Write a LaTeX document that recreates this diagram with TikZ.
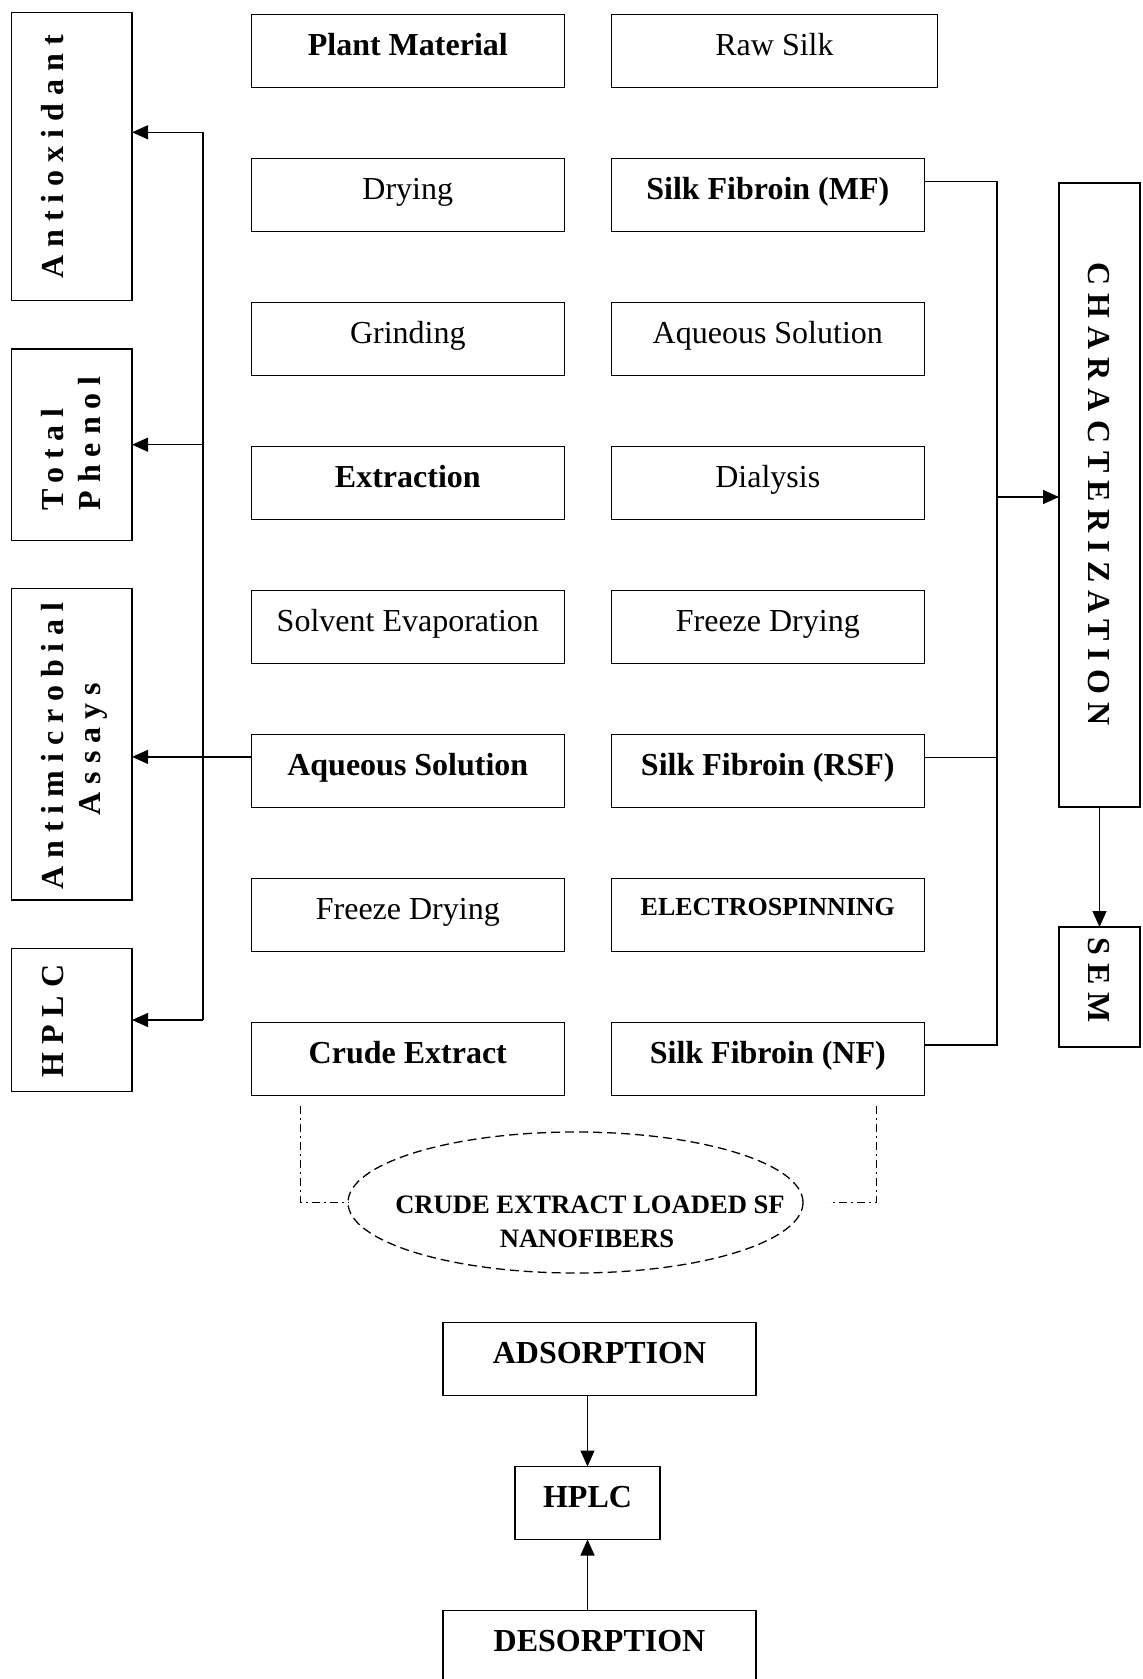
\documentclass[tikz,border=0pt]{standalone}
\usepackage{graphicx}
\usepackage{fontspec}
\setmainfont{Liberation Serif}
\newfontfamily\spacedfont{Liberation Serif}[LetterSpace=25]
\usetikzlibrary{arrows.meta,shapes.geometric}
\begin{document}
\begin{tikzpicture}[x=0.5pt,y=-0.5pt,line width=0.65pt,
  hbox/.style={draw, inner sep=0pt, outer sep=0pt, minimum width=156.5pt, minimum height=36.5pt,
    text height=10pt, text depth=5.4pt, font=\fontsize{16pt}{18pt}\selectfont},
  bbox/.style={hbox, font=\fontsize{16pt}{18pt}\selectfont\bfseries},
  plainbox/.style={draw, inner sep=0pt, outer sep=0pt},
  vtext/.style={inner sep=0pt, font=\spacedfont\bfseries\fontsize{16pt}{18pt}\selectfont},
  arr/.style={-{Triangle[length=8pt,width=7pt]}},
  dashdot/.style={dash pattern=on 4pt off 2pt on 1pt off 2pt},
  elltext/.style={anchor=base, inner sep=0pt, font=\bfseries\fontsize{13.3pt}{15pt}\selectfont}]
\useasboundingbox (0,0) rectangle (1142,1679);

% left column
\node[bbox] (pm) at (407.8,51.3) {Plant Material};
\node[hbox] (dr) at (407.8,195.3) {Drying};
\node[hbox] (gr) at (407.8,339.3) {Grinding};
\node[bbox] (ex) at (407.8,483.3) {Extraction};
\node[hbox] (se) at (407.8,627.3) {Solvent Evaporation};
\node[bbox] (aqL) at (407.8,771.3) {Aqueous Solution};
\node[hbox] (fdL) at (407.8,915.3) {Freeze Drying};
\node[bbox] (ce) at (407.8,1059.3) {Crude Extract};

% right column
\node[hbox, minimum width=163.2pt] (rs) at (774.5,51.3) {Raw Silk};
\node[bbox] (mf) at (767.8,195.3) {Silk Fibroin (MF)};
\node[hbox] (aqR) at (767.8,339.3) {Aqueous Solution};
\node[hbox] (dia) at (767.8,483.3) {Dialysis};
\node[hbox] (fdR) at (767.8,627.3) {Freeze Drying};
\node[bbox] (rsf) at (767.8,771.3) {Silk Fibroin (RSF)};
\node[hbox, text height=6pt, text depth=6pt, font=\fontsize{13pt}{15pt}\selectfont\bfseries] (es) at (767.8,915.3) {ELECTROSPINNING};
\node[bbox] (nf) at (767.8,1059.3) {Silk Fibroin (NF)};

% left assay boxes
\node[plainbox, minimum width=60.35pt, minimum height=144.2pt] (anti) at (71.7,156.5) {};
\node[vtext, rotate=90, anchor=base] (antit) at (63,157) {Antioxidant};
\node[plainbox, minimum width=60.35pt, minimum height=95.8pt] (tph) at (71.7,444.7) {};
\node[vtext, rotate=90, anchor=base west] (tpht1) at (63,511) {Total};
\node[vtext, rotate=90, anchor=base west] (tpht2) at (100,511) {Phenol};
\node[plainbox, minimum width=60.35pt, minimum height=155.7pt] (ami) at (71.7,744.4) {};
\node[vtext, rotate=90, anchor=base] (amit1) at (63,746) {Antimicrobial};
\node[vtext, rotate=90, anchor=base] (amit2) at (100,749) {Assays};
\node[plainbox, minimum width=60.35pt, minimum height=71.7pt] (hpl) at (71.7,1020) {};
\node[vtext, rotate=90, anchor=base] (hplt) at (63,1021) {HPLC};

% right characterization boxes
\node[plainbox, minimum width=40.5pt, minimum height=312pt] (chr) at (1099.5,495) {};
\node[vtext, rotate=-90, anchor=base] (chrt) at (1088,494) {CHARACTERIZATION};
\node[plainbox, minimum width=40.5pt, minimum height=60pt] (sem) at (1099.5,987) {};
\node[vtext, rotate=-90, anchor=base] (semt) at (1088,980) {SEM};

% ellipse
\node[draw, ellipse, dash pattern=on 4.5pt off 2.5pt, inner sep=0pt, outer sep=0pt,
  minimum width=227.5pt, minimum height=70.5pt] (ell) at (575.5,1202.5) {};
\node[elltext] (ellt1) at (590,1213) {CRUDE EXTRACT LOADED SF};
\node[elltext] (ellt2) at (587,1247) {NANOFIBERS};

% bottom
\node[bbox] (ads) at (599.5,1359) {ADSORPTION};
\node[bbox, minimum width=72.5pt] (hp2) at (587.5,1503) {HPLC};
\node[bbox] (des) at (599.5,1647) {DESORPTION};

% bus coordinates
\coordinate (bxl) at (203,500);
\coordinate (bxr) at (997,500);
\coordinate (aoin) at ([yshift=12.1pt]anti.east);
\coordinate (aqo) at ([yshift=7.2pt]aqL.west);
\coordinate (mfo) at ([yshift=6.8pt]mf.east);
\coordinate (rsfo) at ([yshift=6.8pt]rsf.east);
\coordinate (nfo) at ([yshift=7.1pt]nf.east);

% left connectors
\draw[arr] (aqo) -- (aqo -| ami.east);
\draw (aoin -| bxl) -- (hpl.east -| bxl);
\draw[arr] (aoin -| bxl) -- (aoin);
\draw[arr] (tph.east -| bxl) -- (tph.east);
\draw[arr] (hpl.east -| bxl) -- (hpl.east);

% right connectors
\draw (mfo) -- (mfo -| bxr) -- (nfo -| bxr) -- (nfo);
\draw (rsfo) -- (rsfo -| bxr);
\draw[arr] ([yshift=-1pt]chr.west -| bxr) -- ([yshift=-1pt]chr.west);
\draw[arr] (chr.south) -- (sem.north);

% dash-dot links to ellipse
\coordinate (cel) at ([xshift=24.5pt,yshift=-5pt]ce.south west);
\coordinate (nfl) at ([xshift=-24pt,yshift=-5pt]nf.south east);
\coordinate (ellr) at ([xshift=13pt]ell.east);
\draw[dashdot] (cel) |- (ell.west);
\draw[dashdot] (nfl) |- (ellr);

% bottom arrows
\draw[arr] (ads.south -| hp2.north) -- (hp2.north);
\draw[arr] (des.north -| hp2.south) -- (hp2.south);
\end{tikzpicture}
\end{document}
